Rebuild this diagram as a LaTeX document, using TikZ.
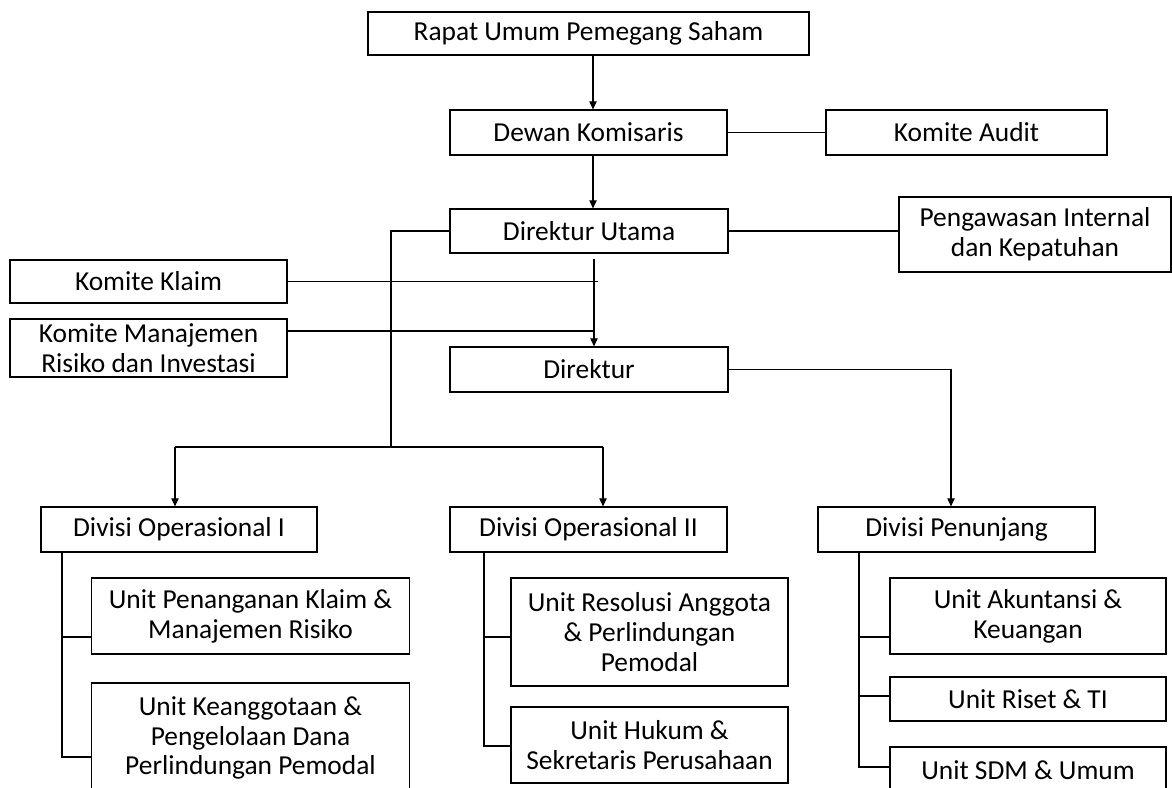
\documentclass[tikz,border=0pt]{standalone}
\usepackage{fontspec}
\setmainfont{Carlito}
\usetikzlibrary{arrows.meta,calc,positioning}

\tikzset{
  box/.style={draw, line width=0.7pt, align=center, inner sep=2pt,
    font=\fontsize{15.6}{17}\selectfont},
  link/.style={line width=0.6pt},
  arr/.style={link, -{Triangle[length=4.6pt,width=4.2pt]}}
}

\begin{document}
\begin{tikzpicture}[x=0.02cm,y=-0.02cm]
  \useasboundingbox (0,0) rectangle (1172,787);
  % top of the chart
  \node[box, minimum width=8.82cm, minimum height=0.86cm] (rups) at (588.5,33.5) {Rapat Umum Pemegang Saham};
  \node[box, minimum width=5.54cm, minimum height=0.9cm] (dk) at (588.5,132.5) {Dewan Komisaris};
  \node[box, minimum width=5.62cm, minimum height=0.9cm] (ka) at (966.5,132.5) {Komite Audit};
  \node[box, minimum width=5.56cm, minimum height=0.88cm] (du) at (589,231) {Direktur Utama};
  \node[box, minimum width=5.44cm, minimum height=1.5cm] (pik) at (1035,234.5) {Pengawasan Internal\\dan Kepatuhan};
  \node[box, minimum width=5.54cm, minimum height=0.86cm] (kk) at (148.5,281.5) {Komite Klaim};
  \node[box, minimum width=5.54cm, minimum height=1.16cm] (kmri) at (148.5,348) {Komite Manajemen\\Risiko dan Investasi};
  \node[box, minimum width=5.56cm, minimum height=0.9cm] (dir) at (589,369.5) {Direktur};
  % divisions
  \node[box, minimum width=5.52cm, minimum height=0.9cm] (do1) at (179,529.5) {Divisi Operasional I};
  \node[box, minimum width=5.54cm, minimum height=0.9cm] (do2) at (588.5,529.5) {Divisi Operasional II};
  \node[box, minimum width=5.54cm, minimum height=0.9cm] (dp) at (956.5,529.5) {Divisi Penunjang};
  % units
  \node[box, minimum width=6.36cm, minimum height=1.52cm] (u1) at (250.5,616) {Unit Penanganan Klaim \&\\Manajemen Risiko};
  \node[box, minimum width=6.36cm, minimum height=2.2cm] (u2) at (250.5,738) {Unit Keanggotaan \&\\Pengelolaan Dana\\Perlindungan Pemodal};
  \node[box, minimum width=5.54cm, minimum height=2.16cm] (u3) at (649.5,632) {Unit Resolusi Anggota\\\& Perlindungan\\Pemodal};
  \node[box, minimum width=5.54cm, minimum height=1.52cm] (u4) at (649.5,745) {Unit Hukum \&\\Sekretaris Perusahaan};
  \node[box, minimum width=5.52cm, minimum height=1.52cm] (u5) at (1028,616) {Unit Akuntansi \&\\Keuangan};
  \node[box, minimum width=5.52cm, minimum height=0.88cm] (u6) at (1028,699) {Unit Riset \& TI};
  \node[box, minimum width=5.52cm, minimum height=0.92cm] (u7) at (1028,770) {Unit SDM \& Umum};

  % junction points
  \coordinate (mid) at (594,259);
  \coordinate (kkend) at (598,281.5);
  \coordinate (kmend) at (594,331);
  \coordinate (jl) at (391,447);
  \coordinate (a1) at (175,447);
  \coordinate (a2) at (603,447);
  \coordinate (t1) at (62,552);
  \coordinate (t2) at (484,552);
  \coordinate (t3) at (859,552);

  % connectors
  \draw[arr] (rups.south -| 593,0) -- (dk.north -| 593,0);
  \draw[link] (dk) -- (ka);
  \draw[arr] (dk.south -| 593,0) -- (du.north -| 593,0);
  \draw[link] (du.east) -- (du.east -| pik.west);
  \draw[link] (du.west) -| (jl);
  \draw[arr] (mid) -- (dir.north -| mid);
  \draw[link] (kk.east) -- (kkend);
  \draw[link] (kmend -| kmri.east) -- (kmend);
  \draw[link] (a1) -- (a2);
  \draw[arr] (a1) -- (do1.north -| a1);
  \draw[arr] (a2) -- (do2.north -| a2);
  \draw[arr] (dir.east) -| (dp.north -| 951,0);
  % unit branches
  \draw[link] (t1) |- (u2.west |- 0,757);
  \draw[link] (t1 |- 0,637) -- (u1.west |- 0,637);
  \draw[link] (t2) |- (u4.west |- 0,746);
  \draw[link] (t2 |- 0,637) -- (u3.west |- 0,637);
  \draw[link] (t3) |- (u7.west |- 0,767);
  \draw[link] (t3 |- 0,637) -- (u5.west |- 0,637);
  \draw[link] (t3 |- 0,696) -- (u6.west |- 0,696);
\end{tikzpicture}
\end{document}
